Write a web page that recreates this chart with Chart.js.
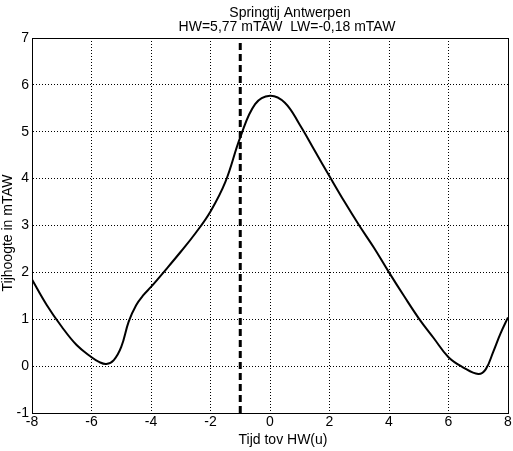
<!DOCTYPE html>
<html>
<head>
  <title>Springtij Antwerpen</title>
  <script src="https://cdn.jsdelivr.net/npm/chart.js"></script>
  <style>
    body { margin: 0; background: #fff; }
    #wrap { width: 513px; height: 451px; }
  </style>
</head>
<body>
  <div id="wrap"><canvas id="tide"></canvas></div>

  <script>
    // Tide curve (hours vs HW, mTAW)
    const hours = [-8, -7.5, -7, -6.5, -6, -5.75, -5.5, -5.25, -5, -4.75, -4.5, -4.25, -4,
                   -3.5, -3, -2.5, -2, -1.5, -1, -0.5, 0, 0.5, 1, 1.5, 2, 2.5, 3, 3.5,
                   4, 4.5, 5, 5.5, 6, 6.5, 7, 7.25, 7.5, 7.75, 8];
    const levels = [1.85, 1.3, 0.84, 0.45, 0.19, 0.09, 0.045, 0.13, 0.41, 0.95, 1.3, 1.52, 1.69,
                    2.06, 2.44, 2.84, 3.3, 3.93, 4.88, 5.59, 5.77, 5.62, 5.15, 4.6, 4.05, 3.51, 3.0, 2.52,
                    2.0, 1.5, 1.02, 0.6, 0.19, -0.03, -0.17, -0.07, 0.3, 0.7, 1.04];
    // moment of the dashed marker
    const markerX = [-1, -1];
    const markerY = [-1, 7];

    const titleLines = ['Springtij Antwerpen', 'HW=5,77 mTAW  LW=-0,18 mTAW'];
    const xLabel = 'Tijd tov HW(u)';
    const yLabel = 'Tijhoogte in mTAW';

    const fontFamily = '"Liberation Sans", Arial, sans-serif';
    const font = { family: fontFamily, size: 14 };

    // box round the plot + title and axis labels
    const frame = {
      id: 'frame',
      afterDraw(chart) {
        const a = chart.chartArea, c = chart.ctx;
        c.save();
        c.strokeStyle = '#000';
        c.lineWidth = 1;
        c.strokeRect(a.left + 0.5, a.top + 0.5, a.right - a.left, a.bottom - a.top);

        c.fillStyle = '#000';
        c.font = '14px ' + fontFamily;
        c.textAlign = 'center';
        c.textBaseline = 'middle';
        c.fillText(titleLines[0], 290, 13);
        c.fillText(titleLines[1], 287, 27);
        c.fillText(xLabel, 283, 440);

        c.translate(8, 233);
        c.rotate(-Math.PI / 2);
        c.fillText(yLabel, 0, 0);
        c.restore();
      }
    };

    const ctx = document.getElementById('tide').getContext('2d');
    new Chart(ctx, {
      type: 'line',
      data: {
        datasets: [
          {
            data: hours.map((h, i) => ({ x: h, y: levels[i] })),
            borderColor: '#000',
            borderWidth: 2,
            pointRadius: 0,
            tension: 0.4,
            fill: false
          },
          {
            data: markerX.map((h, i) => ({ x: h, y: markerY[i] })),
            borderColor: '#000',
            borderWidth: 3,
            borderDash: [7, 4],
            pointRadius: 0,
            fill: false
          }
        ]
      },
      options: {
        responsive: true,
        maintainAspectRatio: false,
        animation: false,
        layout: { padding: { right: 5, left: 0, top: 38, bottom: 0 } },
        plugins: {
          legend: { display: false },
          tooltip: { enabled: false },
          title: { display: false }
        },
        scales: {
          x: {
            type: 'linear',
            min: -8, max: 8,
            afterFit(s) { s.height = 38; },
            ticks: { stepSize: 2, color: '#000', font, padding: 1, maxRotation: 0 },
            grid: { color: '#000', lineWidth: 1, drawTicks: false },
            border: { color: '#000', dash: [1, 2] }
          },
          y: {
            min: -1, max: 7,
            afterFit(s) { s.width = 32; },
            ticks: { stepSize: 1, color: '#000', font, padding: 3 },
            grid: { color: '#000', lineWidth: 1, drawTicks: false },
            border: { color: '#000', dash: [1, 2] }
          }
        }
      },
      plugins: [frame]
    });
  </script>
</body>
</html>
